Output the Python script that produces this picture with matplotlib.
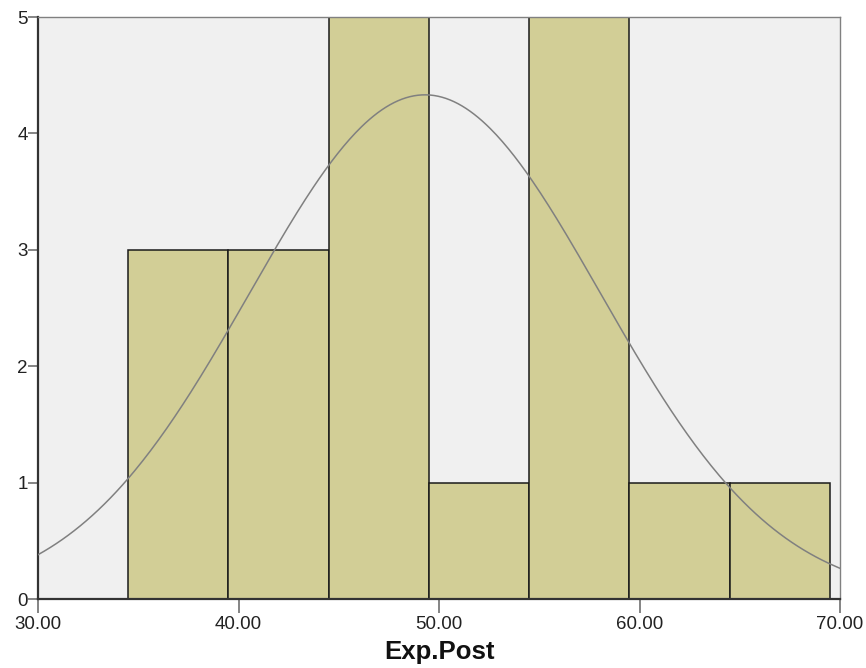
import numpy as np
import matplotlib.pyplot as plt

plt.rcParams['font.family'] = ['Liberation Sans', 'DejaVu Sans']

# histogram bins (edges) and counts
bin_edges = [34.5, 39.5, 44.5, 49.5, 54.5, 59.5, 64.5, 69.5]
counts = [3, 3, 5, 1, 5, 1, 1]

# normal curve parameters
mean_val = 49.3
sd_val = 8.75
n_total = 19
bin_width = 5.0

fig = plt.figure(figsize=(8.66, 6.68), dpi=100)
ax = fig.add_axes([38 / 866, 69 / 668, (840 - 38) / 866, (599 - 17) / 668])
ax.set_facecolor('#f0f0f0')

lefts = np.array(bin_edges[:-1])
widths = np.diff(bin_edges)
ax.bar(lefts, counts, width=widths, align='edge', color='#d2ce96',
       edgecolor='#1a1a1a', linewidth=1.1, zorder=2)

xs = np.linspace(30, 70, 400)
ys = n_total * bin_width / (sd_val * np.sqrt(2 * np.pi)) * np.exp(-(xs - mean_val) ** 2 / (2 * sd_val ** 2))
ax.plot(xs, ys, color='#808080', linewidth=1.1, zorder=3)

ax.set_xlim(30, 70)
ax.set_ylim(0, 5)
ax.set_xticks([30, 40, 50, 60, 70])
ax.set_xticklabels(['30.00', '40.00', '50.00', '60.00', '70.00'])
ax.set_yticks([0, 1, 2, 3, 4, 5])

ax.tick_params(axis='x', length=10, width=1.2, color='#707070', labelsize=13.5,
               labelcolor='#222222', pad=2.5)
ax.tick_params(axis='y', length=7, width=1.2, color='#707070', labelsize=13.5,
               labelcolor='#222222', pad=0.5)

for side in ['left', 'bottom']:
    ax.spines[side].set_color('#333333')
    ax.spines[side].set_linewidth(1.6)
for side in ['top', 'right']:
    ax.spines[side].set_color('#808080')
    ax.spines[side].set_linewidth(1.0)

ax.set_xlabel('Exp.Post', fontsize=18.5, fontweight='bold', color='#111111', labelpad=5)

fig.savefig('out.png', dpi=100)
